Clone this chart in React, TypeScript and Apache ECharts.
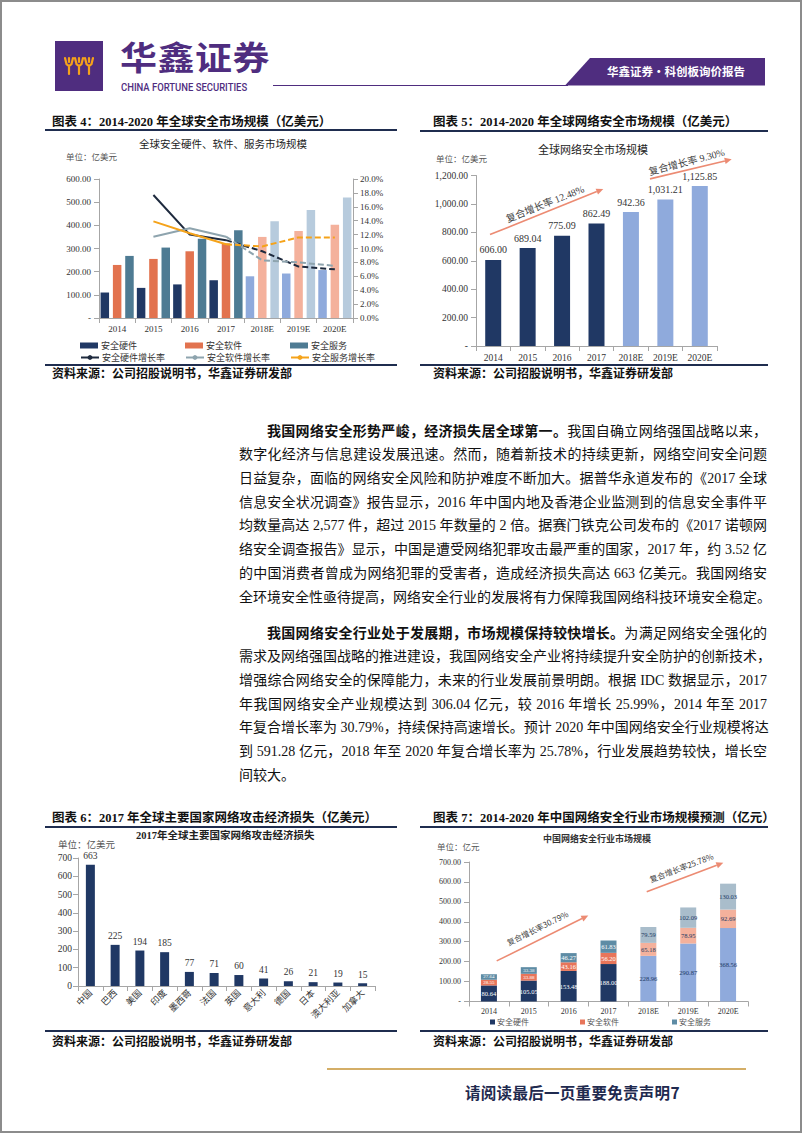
import React, { useEffect, useRef } from "react";
import * as echarts from "echarts";

// ---------------- data ----------------
const years = ["2014", "2015", "2016", "2017", "2018E", "2019E", "2020E"];
const forecastStart = 4;

// 图表4 全球安全硬件、软件、服务市场规模（亿美元）
const globalHardware = [110, 130, 145, 163, 180, 192, 207];
const globalSoftware = [229, 255, 288, 322, 350, 376, 403];
const globalService = [268, 304, 342, 379, 418, 466, 520];
const hardwareGrowth = [null, 17.7, 12.0, 11.2, 9.6, 7.4, 7.0];
const softwareGrowth = [null, 11.7, 12.9, 11.7, 8.3, 8.0, 7.5];
const serviceGrowth = [null, 13.9, 12.2, 10.6, 10.3, 11.6, 11.6];

// 图表5 全球网络安全市场规模（亿美元）
const globalNetSec = [606.0, 689.04, 775.09, 862.49, 942.36, 1031.21, 1125.85];
const globalCagr = ["复合增长率 12.48%", "复合增长率 9.30%"];

// 图表6 2017年全球主要国家网络攻击经济损失（亿美元）
const countries = ["中国", "巴西", "美国", "印度", "墨西哥", "法国", "英国", "意大利", "德国", "日本", "澳大利亚", "加拿大"];
const countryLoss = [663, 225, 194, 185, 77, 71, 60, 41, 26, 21, 19, 15];

// 图表7 中国网络安全行业市场规模（亿元）
const cnHardware = [80.64, 105.05, 153.48, 188.0, 228.96, 290.87, 368.56];
const cnSoftware = [28.55, 33.88, 43.16, 56.2, 65.18, 78.95, 92.69];
const cnService = [27.64, 33.38, 46.27, 61.83, 79.59, 102.09, 130.03];
const cnCagr = ["复合增长率30.79%", "复合增长率25.78%"];

// ---------------- styles ----------------
const serif = "'Liberation Serif','Noto Sans CJK SC',serif";
const cjk = "'Noto Sans CJK SC','Liberation Serif',sans-serif";
const navy = "#203864";
const axisGray = "#a6a6a6";
const textCol = "#333333";
const arrowCol = "#EC8B73";

const colors = {
  hw: navy,
  sw: "#E2734F",
  sv: "#4E7B93",
  hwF: "#8FAADC",
  swF: "#F4B19C",
  svF: "#B7CBDD",
  cnSw: "#E8755A",
  cnSv: "#5E8CA5",
  cnSvF: "#A9BDCB",
};

function arrow(x1: number, y1: number, x2: number, y2: number, color: string) {
  const ang = Math.atan2(y2 - y1, x2 - x1);
  const L = 7, W = 3.2;
  const bx = x2 - L * Math.cos(ang), by = y2 - L * Math.sin(ang);
  const px = -Math.sin(ang) * W, py = Math.cos(ang) * W;
  return [
    { type: "line", shape: { x1, y1, x2: bx, y2: by }, style: { stroke: color, lineWidth: 1.6 }, silent: true },
    { type: "polygon", shape: { points: [[x2, y2], [bx + px, by + py], [bx - px, by - py]] }, style: { fill: color }, silent: true },
  ];
}

function gText(text: string, x: number, y: number, font: string, fill = textCol, align = "left", rotation = 0) {
  return {
    type: "text",
    x,
    y,
    rotation,
    silent: true,
    style: { text, font, fill, textAlign: align, textVerticalAlign: "middle", align, verticalAlign: "middle" },
  };
}

const axisLineStyle = { show: true, lineStyle: { color: axisGray, width: 1 } };
const axisTickStyle = { show: true, lineStyle: { color: axisGray, width: 1 } };

// ---------------- chart 4 ----------------
function option4() {
  const colored = (arr: number[], base: string, fc: string) =>
    arr.map((v, i) => ({ value: v, itemStyle: { color: i >= forecastStart ? fc : base } }));
  const solid = (arr: (number | null)[]) => arr.map((v, i) => (i < forecastStart ? v : null));
  const dashed = (arr: (number | null)[]) => arr.map((v, i) => (i >= forecastStart - 1 ? v : null));
  const lineDef = (name: string, arr: (number | null)[], color: string) => [
    { name, type: "line", yAxisIndex: 1, data: solid(arr), symbol: "none", lineStyle: { color, width: 2 }, itemStyle: { color }, z: 5 },
    { name, type: "line", yAxisIndex: 1, data: dashed(arr), symbol: "none", lineStyle: { color, width: 2, type: [6, 3] }, itemStyle: { color }, z: 5 },
  ];
  const legBase = {
    itemWidth: 18,
    itemHeight: 6,
    padding: 0,
    itemGap: 0,
    selectedMode: false,
    textStyle: { fontSize: 9, fontFamily: cjk, color: textCol, padding: [0, 0, 0, -2] },
  };
  return {
    animation: false,
    grid: { left: 54, right: 44, top: 47, height: 139 },
    xAxis: {
      type: "category",
      data: years,
      axisLine: axisLineStyle,
      axisTick: axisTickStyle,
      axisLabel: { fontFamily: serif, fontSize: 9, color: textCol, margin: 6 },
    },
    yAxis: [
      {
        type: "value", min: 0, max: 600, interval: 100,
        axisLine: axisLineStyle, axisTick: axisTickStyle, splitLine: { show: false },
        axisLabel: { fontFamily: serif, fontSize: 9, color: textCol, formatter: (v: number) => (v === 0 ? "-" : v.toFixed(2)) },
      },
      {
        type: "value", min: 0, max: 20, interval: 2, position: "right",
        axisLine: axisLineStyle, axisTick: axisTickStyle, splitLine: { show: false },
        axisLabel: { fontFamily: serif, fontSize: 9, color: textCol, margin: 7, formatter: (v: number) => v.toFixed(1) + "%" },
      },
    ],
    legend: [
      { ...legBase, data: [{ name: "安全硬件", icon: "rect" }], left: 35, top: 209 },
      { ...legBase, data: [{ name: "安全软件", icon: "rect" }], left: 140, top: 209 },
      { ...legBase, data: [{ name: "安全服务", icon: "rect" }], left: 245, top: 209 },
      { ...legBase, data: ["安全硬件增长率"], left: 35, top: 221 },
      { ...legBase, data: ["安全软件增长率"], left: 140, top: 221 },
      { ...legBase, data: ["安全服务增长率"], left: 245, top: 221 },
    ],
    graphic: [
      gText("全球安全硬件、软件、服务市场规模", 94, 11, `10.5px ${cjk}`, "#222"),
      gText("单位：亿美元", 21, 24, `8.5px ${cjk}`, "#555"),
    ],
    series: [
      { name: "安全硬件", type: "bar", barWidth: 8.5, barGap: "45%", itemStyle: { color: colors.hw }, data: colored(globalHardware, colors.hw, colors.hwF) },
      { name: "安全软件", type: "bar", barWidth: 8.5, barGap: "45%", itemStyle: { color: colors.sw }, data: colored(globalSoftware, colors.sw, colors.swF) },
      { name: "安全服务", type: "bar", barWidth: 8.5, barGap: "45%", itemStyle: { color: colors.sv }, data: colored(globalService, colors.sv, colors.svF) },
      ...lineDef("安全硬件增长率", hardwareGrowth, "#1E2A3E"),
      ...lineDef("安全软件增长率", softwareGrowth, "#8EA4AE"),
      ...lineDef("安全服务增长率", serviceGrowth, "#F5A31A"),
    ],
  };
}

// ---------------- chart 5 ----------------
function fmt2(v: number) {
  return v.toLocaleString("en-US", { minimumFractionDigits: 2, maximumFractionDigits: 2 });
}
function option5() {
  return {
    animation: false,
    grid: { left: 56, right: 51, top: 43.5, height: 170.5 },
    xAxis: {
      type: "category",
      data: years,
      axisLine: axisLineStyle,
      axisTick: axisTickStyle,
      axisLabel: { fontFamily: serif, fontSize: 9.5, color: textCol, margin: 7 },
    },
    yAxis: {
      type: "value", min: 0, max: 1200, interval: 200,
      axisLine: axisLineStyle, axisTick: axisTickStyle, splitLine: { show: false },
      axisLabel: { fontFamily: serif, fontSize: 9.5, color: textCol, formatter: (v: number) => (v === 0 ? "-" : fmt2(v)) },
    },
    graphic: [
      gText("全球网络安全市场规模", 118, 16.5, `11px ${cjk}`, "#222"),
      gText("单位：亿美元", 16, 26, `8.5px ${cjk}`, "#555"),
      ...arrow(70, 102.6, 183.3, 57, arrowCol),
      ...arrow(230, 46.9, 311.7, 27.3, arrowCol),
      gText(globalCagr[0], 125, 72, `10px ${serif}`, "#404040", "center", 0.384),
      gText(globalCagr[1], 266.7, 30, `10px ${serif}`, "#404040", "center", 0.26),
    ],
    series: [
      {
        name: "全球网络安全市场规模",
        type: "bar",
        barWidth: 16,
        data: globalNetSec.map((v, i) => ({ value: v, itemStyle: { color: i >= forecastStart ? colors.hwF : navy } })),
        label: { show: true, position: "top", distance: 5, fontFamily: serif, fontSize: 10, color: textCol, formatter: (p: any) => fmt2(p.value) },
      },
    ],
  };
}

// ---------------- chart 6 ----------------
function option6() {
  return {
    animation: false,
    grid: { left: 33, right: 22, top: 30, height: 128 },
    xAxis: {
      type: "category",
      data: countries,
      axisLine: axisLineStyle,
      axisTick: axisTickStyle,
      axisLabel: { fontFamily: cjk, fontSize: 9, color: textCol, rotate: 45, interval: 0, margin: 5 },
    },
    yAxis: {
      type: "value", min: 0, max: 700, interval: 100,
      axisLine: axisLineStyle, axisTick: axisTickStyle, splitLine: { show: false },
      axisLabel: { fontFamily: serif, fontSize: 9.5, color: textCol, margin: 6 },
    },
    graphic: [
      gText("2017年全球主要国家网络攻击经济损失", 91, 7, `bold 10.5px ${serif}`, "#222"),
      gText("单位：亿美元", 13, 15.5, `9.5px ${cjk}`, "#555"),
    ],
    series: [
      {
        name: "经济损失",
        type: "bar",
        barWidth: 9,
        itemStyle: { color: navy },
        data: countryLoss,
        label: { show: true, position: "top", distance: 4, fontFamily: serif, fontSize: 9.5, color: textCol },
      },
    ],
  };
}

// ---------------- chart 7 ----------------
function option7() {
  const mk = (name: string, arr: number[], base: string, fc: string) => ({
    name,
    type: "bar",
    stack: "total",
    barWidth: 16,
    itemStyle: { color: base },
    data: arr.map((v, i) => ({
      value: v,
      itemStyle: { color: i >= forecastStart ? fc : base },
      label: { color: i >= forecastStart ? navy : "#ffffff", fontSize: i < 2 && name !== "安全硬件" ? 5 : 6.5 },
    })),
    label: {
      show: true,
      position: "inside",
      fontFamily: serif,
      fontSize: 6.5,
      formatter: (p: any) => p.value.toFixed(2),
    },
  });
  const legBase = {
    itemWidth: 5,
    itemHeight: 5,
    padding: 0,
    selectedMode: false,
    textStyle: { fontSize: 8, fontFamily: cjk, color: "#555", padding: [0, 0, 0, -3] },
  };
  return {
    animation: false,
    grid: { left: 49, right: 20, top: 34, height: 139.5 },
    xAxis: {
      type: "category",
      data: years,
      axisLine: axisLineStyle,
      axisTick: axisTickStyle,
      axisLabel: { fontFamily: serif, fontSize: 8, color: textCol, margin: 6 },
    },
    yAxis: {
      type: "value", min: 0, max: 700, interval: 100,
      axisLine: axisLineStyle, axisTick: axisTickStyle, splitLine: { show: false },
      axisLabel: { fontFamily: serif, fontSize: 8, color: textCol, formatter: (v: number) => (v === 0 ? "-" : v.toFixed(2)) },
    },
    legend: [
      { ...legBase, data: [{ name: "安全硬件", icon: "rect" }], left: 70, top: 190 },
      { ...legBase, data: [{ name: "安全软件", icon: "rect" }], left: 160, top: 190 },
      { ...legBase, data: [{ name: "安全服务", icon: "rect" }], left: 252, top: 190 },
    ],
    graphic: [
      gText("中国网络安全行业市场规模", 123, 10, `bold 9px ${cjk}`, "#333"),
      gText("单位：亿元", 17, 18, `8.5px ${cjk}`, "#555"),
      ...arrow(76.7, 132.9, 168.3, 87.4, arrowCol),
      ...arrow(226.7, 63.8, 303.3, 34.7, arrowCol),
      gText(cnCagr[0], 117.3, 100, `8px ${cjk}`, "#404040", "center", 0.461),
      gText(cnCagr[1], 261.3, 39.5, `8px ${cjk}`, "#404040", "center", 0.363),
    ],
    series: [
      mk("安全硬件", cnHardware, navy, colors.hwF),
      mk("安全软件", cnSoftware, colors.cnSw, colors.swF),
      mk("安全服务", cnService, colors.cnSv, colors.cnSvF),
    ],
  };
}

// ---------------- components ----------------
function Chart({ option, left, top, width, height }: { option: any; left: number; top: number; width: number; height: number }) {
  const ref = useRef<HTMLDivElement>(null);
  useEffect(() => {
    const chart = echarts.init(ref.current as HTMLDivElement, null, { renderer: "svg" });
    chart.setOption(option);
    return () => chart.dispose();
  }, []);
  return <div ref={ref} style={{ position: "absolute", left, top, width, height }} />;
}

function Abs({ left, cy, h = 16, style, children }: any) {
  return (
    <div style={{ position: "absolute", left, top: cy - h / 2, height: h, lineHeight: h + "px", whiteSpace: "nowrap", ...style }}>
      {children}
    </div>
  );
}

function HLine({ x1, x2, y, color = "#1F2D4F", w = 2 }: any) {
  return <div style={{ position: "absolute", left: x1, top: y - w / 2, width: x2 - x1, height: w, background: color }} />;
}

const titleStyle = { fontFamily: serif, fontWeight: 700, fontSize: 12.5, color: "#111" };
const sourceStyle = { fontFamily: cjk, fontWeight: 700, fontSize: 12, color: "#111" };

const para1 = [
  { b: "我国网络安全形势严峻，经济损失居全球第一。", t: "我国自确立网络强国战略以来，" },
  { t: "数字化经济与信息建设发展迅速。然而，随着新技术的持续更新，网络空间安全问题" },
  { t: "日益复杂，面临的网络安全风险和防护难度不断加大。据普华永道发布的《2017 全球" },
  { t: "信息安全状况调查》报告显示，2016 年中国内地及香港企业监测到的信息安全事件平" },
  { t: "均数量高达 2,577 件，超过 2015 年数量的 2 倍。据赛门铁克公司发布的《2017 诺顿网" },
  { t: "络安全调查报告》显示，中国是遭受网络犯罪攻击最严重的国家，2017 年，约 3.52 亿" },
  { t: "的中国消费者曾成为网络犯罪的受害者，造成经济损失高达 663 亿美元。我国网络安" },
  { t: "全环境安全性亟待提高，网络安全行业的发展将有力保障我国网络科技环境安全稳定。" },
];
const para2 = [
  { b: "我国网络安全行业处于发展期，市场规模保持较快增长。", t: "为满足网络安全强化的" },
  { t: "需求及网络强国战略的推进建设，我国网络安全产业将持续提升安全防护的创新技术，" },
  { t: "增强综合网络安全的保障能力，未来的行业发展前景明朗。根据 IDC 数据显示，2017" },
  { t: "年我国网络安全产业规模达到 306.04 亿元，较 2016 年增长 25.99%，2014 年至 2017" },
  { t: "年复合增长率为 30.79%，持续保持高速增长。预计 2020 年中国网络安全行业规模将达" },
  { t: "到 591.28 亿元，2018 年至 2020 年复合增长率为 25.78%，行业发展趋势较快，增长空" },
  { t: "间较大。", last: true },
];

function Paragraph({ lines, startY, lh }: { lines: any[]; startY: number; lh: number }) {
  return (
    <>
      {lines.map((ln, i) => (
        <div
          key={i}
          style={{
            position: "absolute",
            left: 239,
            width: 528,
            top: startY + i * lh - lh / 2,
            height: lh,
            lineHeight: lh + "px",
            boxSizing: "border-box",
            paddingLeft: i === 0 ? 28 : 0,
            fontFamily: serif,
            fontSize: 14,
            color: "#111",
            textAlign: "justify",
            textAlignLast: ln.last ? "left" : "justify",
            whiteSpace: "nowrap",
          } as React.CSSProperties}
        >
          {ln.b ? <span style={{ fontFamily: cjk, fontWeight: 700 }}>{ln.b}</span> : null}
          {ln.t}
        </div>
      ))}
    </>
  );
}

export default function App() {
  useEffect(() => {
    document.documentElement.style.overflow = "hidden";
    document.body.style.margin = "0";
  }, []);
  const purple = "#4F2D7F";
  return (
    <div
      style={{
        position: "absolute",
        left: 0,
        top: 0,
        width: 802,
        height: 1133,
        background: "#fff",
        border: "2px solid #8c8c8c",
        boxSizing: "border-box",
        overflow: "hidden",
      }}
    >
      <div style={{ position: "absolute", left: -2, top: -2, width: 802, height: 1133 }}>
        {/* header */}
        <svg style={{ position: "absolute", left: 55, top: 41 }} width={48} height={50}>
          <rect width={48} height={50} fill={purple} />
          {[0, 1, 2].map((i) => (
            <g key={i} transform={`translate(${14 + i * 10},17)`} stroke="#F5A21B" strokeWidth={2.2} fill="none" strokeLinecap="round">
              <path d="M-4,0 L-2.5,6 L0,8 L2.5,6 L4,0 M0,8 L0,16 M0,0 L0,4" />
            </g>
          ))}
        </svg>
        <div style={{ position: "absolute", left: 120, top: 40, height: 33, fontFamily: cjk, fontWeight: 700, fontSize: 33, lineHeight: "33px", color: purple, letterSpacing: 0.5, whiteSpace: "nowrap", transform: "scaleX(1.12)", transformOrigin: "left center" }}>
          华鑫证券
        </div>
        <div style={{ position: "absolute", left: 121, top: 82, fontFamily: "Roboto, sans-serif", fontWeight: 500, fontSize: 11, lineHeight: "12px", color: purple, transform: "scaleX(0.86)", transformOrigin: "left center", whiteSpace: "nowrap" }}>
          CHINA FORTUNE SECURITIES
        </div>
        <div style={{ position: "absolute", left: 273, top: 84.5, width: 295, height: 1.5, background: purple }} />
        <svg style={{ position: "absolute", left: 560, top: 57 }} width={206} height={30}>
          <polygon points="30,1 205,1 205,28.5 5,28.5" fill={purple} />
        </svg>
        <div style={{ position: "absolute", left: 596, top: 64, width: 160, textAlign: "center", fontFamily: cjk, fontWeight: 700, fontSize: 11.5, lineHeight: "14px", color: "#fff", whiteSpace: "nowrap" }}>
          华鑫证券·科创板询价报告
        </div>

        {/* section 1 */}
        <Abs left={52} cy={121.5} style={titleStyle}>图表 4：2014-2020 年全球安全市场规模（亿美元）</Abs>
        <Abs left={433} cy={121.5} style={titleStyle}>图表 5：2014-2020 年全球网络安全市场规模（亿美元）</Abs>
        <HLine x1={45} x2={397} y={130} />
        <HLine x1={420} x2={768} y={130.5} />
        <Chart option={option4()} left={45} top={132} width={352} height={231} />
        <Chart option={option5()} left={420} top={132} width={348} height={231} />
        <HLine x1={45} x2={397} y={364.5} />
        <HLine x1={420} x2={768} y={364.5} />
        <Abs left={52} cy={372.5} style={sourceStyle}>资料来源：公司招股说明书，华鑫证券研发部</Abs>
        <Abs left={433} cy={372.5} style={sourceStyle}>资料来源：公司招股说明书，华鑫证券研发部</Abs>

        {/* body text */}
        <Paragraph lines={para1} startY={431} lh={23.85} />
        <Paragraph lines={para2} startY={633} lh={23.8} />

        {/* section 3 */}
        <Abs left={52} cy={818} style={titleStyle}>图表 6：2017 年全球主要国家网络攻击经济损失（亿美元）</Abs>
        <Abs left={433} cy={818} style={titleStyle}>图表 7：2014-2020 年中国网络安全行业市场规模预测（亿元）</Abs>
        <HLine x1={45} x2={397} y={826.5} />
        <HLine x1={420} x2={768} y={826.5} />
        <Chart option={option6()} left={45} top={828} width={352} height={202} />
        <Chart option={option7()} left={420} top={828} width={348} height={202} />
        <HLine x1={45} x2={397} y={1031} />
        <HLine x1={420} x2={768} y={1031} />
        <Abs left={52} cy={1041} style={sourceStyle}>资料来源：公司招股说明书，华鑫证券研发部</Abs>
        <Abs left={433} cy={1041} style={sourceStyle}>资料来源：公司招股说明书，华鑫证券研发部</Abs>

        {/* footer */}
        <HLine x1={327} x2={746} y={1069} color="#D4AE67" w={2.5} />
        <Abs left={465} cy={1092} h={20} style={{ fontFamily: cjk, fontWeight: 700, fontSize: 15.5, color: "#1F2A4F", letterSpacing: 0.3 }}>
          请阅读最后一页重要免责声明7
        </Abs>
      </div>
    </div>
  );
}
